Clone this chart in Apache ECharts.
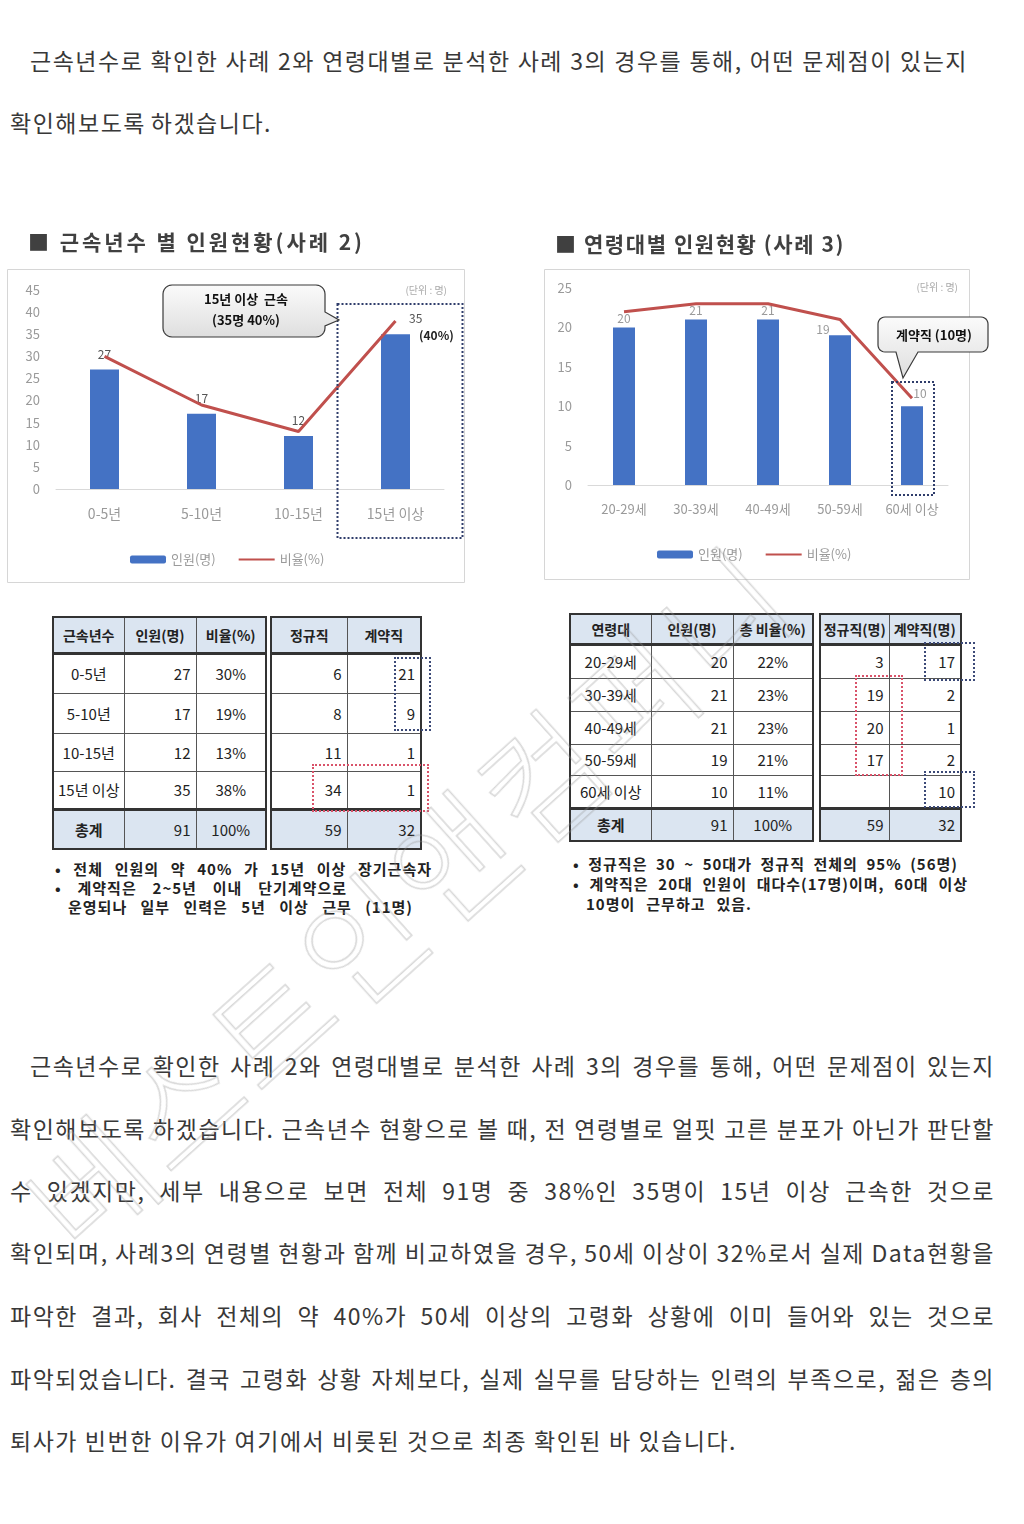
<!DOCTYPE html>
<html><head><meta charset="utf-8">
<script src="https://cdn.jsdelivr.net/npm/echarts@6/dist/echarts.min.js"></script>
<style>
html,body{margin:0;padding:0;background:#fff;}
#page{position:relative;width:1024px;height:1524px;overflow:hidden;font-family:"Noto Sans CJK KR","Noto Sans",sans-serif;}
.ln{position:absolute;white-space:nowrap;font-size:23px;line-height:30px;color:#383838;}
.ttl{position:absolute;white-space:nowrap;font-size:21px;line-height:26px;font-weight:bold;color:#404040;}
.note{position:absolute;white-space:nowrap;font-size:15px;line-height:18px;font-weight:bold;color:#222;}
#charts{position:absolute;left:0;top:220px;width:1024px;height:380px;}
table.t{position:absolute;border-collapse:collapse;table-layout:fixed;border:2px solid #333;background:#fff;font-size:15px;color:#222;}
table.t td{border:1px solid #555;padding:0;overflow:hidden;white-space:nowrap;}
table.t tr.h td{background:#dbe5f1;font-weight:bold;font-size:14px;text-align:center;border-bottom:3px solid #333;}
table.t tr.s td{background:#dbe5f1;border-top:3px solid #333;}
td.c{text-align:center;}
td.r{text-align:right;}
.dot{position:absolute;box-sizing:border-box;border:2px dotted #3c4a78;}
.dot.red{border-color:#d9536a;}
#wm{position:absolute;left:405px;top:895px;transform:translate(-50%,-50%) rotate(-42deg);font-size:128px;font-weight:300;white-space:nowrap;color:transparent;-webkit-text-stroke:1.5px rgba(150,150,150,0.38);pointer-events:none;letter-spacing:4px;}
</style></head>
<body><div id="page"><div id="charts"></div></div>
<script>
// ---------- data ----------
const introLines = [
  '근속년수로 확인한 사례 2와 연령대별로 분석한 사례 3의 경우를 통해, 어떤 문제점이 있는지',
  '확인해보도록 하겠습니다.'
];
const bodyLines = [
  '근속년수로 확인한 사례 2와 연령대별로 분석한 사례 3의 경우를 통해, 어떤 문제점이 있는지',
  '확인해보도록 하겠습니다. 근속년수 현황으로 볼 때, 전 연령별로 얼핏 고른 분포가 아닌가 판단할',
  '수 있겠지만, 세부 내용으로 보면 전체 91명 중 38%인 35명이 15년 이상 근속한 것으로',
  '확인되며, 사례3의 연령별 현황과 함께 비교하였을 경우, 50세 이상이 32%로서 실제 Data현황을',
  '파악한 결과, 회사 전체의 약 40%가 50세 이상의 고령화 상황에 이미 들어와 있는 것으로',
  '파악되었습니다. 결국 고령화 상황 자체보다, 실제 실무를 담당하는 인력의 부족으로, 젊은 층의',
  '퇴사가 빈번한 이유가 여기에서 비롯된 것으로 최종 확인된 바 있습니다.'
];
const title1 = '■ 근속년수 별 인원현황(사례 2)';
const title2 = '■ 연령대별 인원현황 (사례 3)';
const seriesNames = ['인원(명)', '비율(%)'];
const unitText = '(단위 : 명)';

const tenureCats = ['0-5년', '5-10년', '10-15년', '15년 이상'];
const tenureCounts = [27, 17, 12, 35];
const tenureRatio = [30, 19, 13, 38];
const tenureRatioText = ['30%', '19%', '13%', '38%'];
const tenureRegular = [6, 8, 11, 34];
const tenureContract = [21, 9, 1, 1];
const tenureTotals = ['91', '100%', '59', '32'];
const tenureHead = ['근속년수', '인원(명)', '비율(%)', '정규직', '계약직'];
const callout1 = ['15년 이상  근속', '(35명 40%)'];
const tenureExtra = '(40%)';
const notes1 = ['• 전체 인원의 약 40% 가 15년 이상 장기근속자', '• 계약직은 2~5년 이내 단기계약으로', '운영되나 일부 인력은 5년 이상 근무 (11명)'];

const ageCats = ['20-29세', '30-39세', '40-49세', '50-59세', '60세 이상'];
const ageCounts = [20, 21, 21, 19, 10];
const ageRatio = [22, 23, 23, 21, 11];
const ageRatioText = ['22%', '23%', '23%', '21%', '11%'];
const ageRegular = [3, 19, 20, 17, ''];
const ageContract = [17, 2, 1, 2, 10];
const ageTotals = ['91', '100%', '59', '32'];
const ageHead = ['연령대', '인원(명)', '총 비율(%)', '정규직(명)', '계약직(명)'];
const callout2 = '계약직 (10명)';
const notes2 = ['• 정규직은 30 ~ 50대가 정규직 전체의 95% (56명)', '• 계약직은 20대 인원이 대다수(17명)이며, 60대 이상', '10명이 근무하고 있음.'];
const watermark = '베스트인앤컴퍼니';

// ---------- text layout ----------
const page = document.getElementById('page');
function addLine(cls, text, x, cy, target, ls, mode) {
  const d = document.createElement('div');
  d.className = cls; d.textContent = text;
  d.style.left = x + 'px';
  if (ls) d.style.letterSpacing = ls + 'px';
  page.appendChild(d);
  const r = d.getBoundingClientRect();
  d.style.top = (cy - r.height / 2) + 'px';
  if (target) {
    const n = (text.match(/ /g) || []).length;
    if (n && mode !== 'letter') d.style.wordSpacing = ((target - r.width) / n) + 'px';
    else d.style.letterSpacing = ((ls || 0) + (target - r.width) / text.length) + 'px';
  }
  return d;
}
addLine('ln', introLines[0], 30, 60, 938, 1.5);
addLine('ln', introLines[1], 10, 122, 262, 1.5);
const bodyY = [1065, 1128, 1190, 1252, 1315, 1378, 1440];
bodyLines.forEach((t, i) => {
  const x = i === 0 ? 30 : 10;
  const end = i === bodyLines.length - 1 ? 737 : 995;
  addLine('ln', t, x, bodyY[i], end - x, 1.5);
});
addLine('ttl', title1, 28, 241, 337, 0, 'letter');
addLine('ttl', title2, 555, 243, 290, 0, 'letter');
addLine('note', notes1[0], 55, 869, 377, 1);
addLine('note', notes1[1], 55, 888, 292, 1);
addLine('note', notes1[2], 68, 907, 345, 1);
addLine('note', notes2[0], 573, 864, 385, 1);
addLine('note', notes2[1], 573, 884, 395, 1);
addLine('note', notes2[2], 586, 904, 166, 1);

// ---------- tables ----------
function makeTable(x, y, widths, heights, rows, rowTypes, aligns) {
  const t = document.createElement('table');
  t.className = 't';
  t.style.left = x + 'px'; t.style.top = y + 'px';
  t.style.width = widths.reduce((a, b) => a + b, 0) + 'px';
  const cg = document.createElement('colgroup');
  widths.forEach(w => { const c = document.createElement('col'); c.style.width = w + 'px'; cg.appendChild(c); });
  t.appendChild(cg);
  rows.forEach((row, ri) => {
    const tr = document.createElement('tr');
    if (rowTypes[ri]) tr.className = rowTypes[ri];
    tr.style.height = heights[ri] + 'px';
    row.forEach((v, ci) => {
      const td = document.createElement('td');
      td.textContent = v;
      if (rowTypes[ri] !== 'h') {
        td.className = aligns[ci];
        if (aligns[ci] === 'r') td.style.paddingRight = '5px';
        if (rowTypes[ri] === 's' && ci === 0 && widths.length === 3) td.style.fontWeight = 'bold';
      }
      tr.appendChild(td);
    });
    t.appendChild(tr);
  });
  page.appendChild(t);
}
const t1A = [tenureHead.slice(0, 3)].concat(tenureCats.map((c, i) => [c, tenureCounts[i], tenureRatioText[i]]), [['총계', tenureTotals[0], tenureTotals[1]]]);
const t1B = [tenureHead.slice(3)].concat(tenureCats.map((c, i) => [tenureRegular[i], tenureContract[i]]), [[tenureTotals[2], tenureTotals[3]]]);
const t1Types = ['h', '', '', '', '', 's'];
const t1H = [36, 40, 40, 38, 38, 40];
makeTable(52, 616, [71, 72, 70], t1H, t1A, t1Types, ['c', 'r', 'c']);
makeTable(270, 616, [76, 74], t1H, t1B, t1Types, ['r', 'r']);
const t2A = [ageHead.slice(0, 3)].concat(ageCats.map((c, i) => [c, ageCounts[i], ageRatioText[i]]), [['총계', ageTotals[0], ageTotals[1]]]);
const t2B = [ageHead.slice(3)].concat(ageCats.map((c, i) => [ageRegular[i], ageContract[i]]), [[ageTotals[2], ageTotals[3]]]);
const t2Types = ['h', '', '', '', '', '', 's'];
const t2H = [30, 34, 33, 33, 31, 33, 33];
makeTable(569, 613, [81, 82, 80], t2H, t2A, t2Types, ['c', 'r', 'c']);
makeTable(819, 613, [69, 72], t2H, t2B, t2Types, ['r', 'r']);

function dotBox(x1, y1, x2, y2, red) {
  const d = document.createElement('div');
  d.className = 'dot' + (red ? ' red' : '');
  d.style.left = x1 + 'px'; d.style.top = y1 + 'px';
  d.style.width = (x2 - x1) + 'px'; d.style.height = (y2 - y1) + 'px';
  page.appendChild(d);
}
dotBox(394, 657, 431, 731, false);
dotBox(312, 764, 429, 812, true);
dotBox(924, 642, 975, 681, false);
dotBox(855, 675, 903, 776, true);
dotBox(924, 771, 975, 808, false);

const wm = document.createElement('div');
wm.id = 'wm'; wm.textContent = watermark;
page.appendChild(wm);

// ---------- charts ----------
const T = 220;
const chart = echarts.init(document.getElementById('charts'));
const FF = '"Noto Sans CJK KR","Noto Sans",sans-serif';
const blue = '#4472c4', red = '#c0504d';

function xAx(idx, data, fs) {
  return {type: 'category', gridIndex: idx, data: data,
    axisLine: {lineStyle: {color: '#d9d9d9', width: 1}}, axisTick: {show: false},
    axisLabel: {color: '#9a9a9a', fontSize: fs, margin: 18, fontFamily: FF}};
}
function yAx(idx, max) {
  return {type: 'value', gridIndex: idx, min: 0, max: max, interval: 5,
    axisLine: {show: false}, axisTick: {show: false}, splitLine: {show: false},
    axisLabel: {color: '#9a9a9a', fontSize: 13, margin: 16, fontFamily: FF}};
}
const legendData = [{name: seriesNames[0]}, {name: seriesNames[1], itemStyle: {opacity: 0}}];

chart.setOption({
  animation: false,
  textStyle: {fontFamily: FF},
  grid: [
    {left: 56, top: 290 - T, width: 388, height: 199},
    {left: 588, top: 288 - T, width: 360, height: 197}
  ],
  xAxis: [xAx(0, tenureCats, 14), xAx(1, ageCats, 13)],
  yAxis: [yAx(0, 45), yAx(1, 25)],
  legend: [
    {left: 125, top: 556 - T - 8, itemWidth: 36, itemHeight: 8, itemGap: 22, data: legendData,
      textStyle: {color: '#9a9a9a', fontSize: 13, fontFamily: FF}},
    {left: 652, top: 551 - T - 8, itemWidth: 36, itemHeight: 8, itemGap: 22, data: legendData,
      textStyle: {color: '#9a9a9a', fontSize: 13, fontFamily: FF}}
  ],
  series: [
    {type: 'bar', name: seriesNames[0], xAxisIndex: 0, yAxisIndex: 0, barWidth: 29,
      itemStyle: {color: blue},
      label: {show: true, position: 'top', distance: 9, color: '#555', fontSize: 12},
      data: tenureCounts.map((v, i) => i === tenureCounts.length - 1 ? {
        value: v,
        label: {position: [28, -24], align: 'left', verticalAlign: 'top',
          formatter: '{a|{c}}\n{b|' + tenureExtra + '}',
          rich: {a: {color: '#555', fontSize: 12, lineHeight: 16},
                 b: {color: '#222', fontSize: 12, fontWeight: 'bold', lineHeight: 18, padding: [0, 0, 0, 10]}}}
      } : v)},
    {type: 'line', name: seriesNames[1], xAxisIndex: 0, yAxisIndex: 0, data: tenureRatio,
      symbol: 'none', lineStyle: {color: red, width: 3}, itemStyle: {color: red}, z: 3},
    {type: 'bar', name: seriesNames[0], xAxisIndex: 1, yAxisIndex: 1, barWidth: 22,
      itemStyle: {color: blue},
      label: {show: true, position: 'top', distance: 3, color: '#9a9a9a', fontSize: 12},
      data: ageCounts.map((v, i) => i === 3 ? {value: v, label: {offset: [-17, 3]}} :
        (i === 4 ? {value: v, label: {offset: [8, -4]}} : v))},
    {type: 'line', name: seriesNames[1], xAxisIndex: 1, yAxisIndex: 1, data: ageRatio,
      symbol: 'none', lineStyle: {color: red, width: 3}, itemStyle: {color: red}, z: 3}
  ]
});

// rounded callout outline as polygon points
function calloutPts(x, y, w, h, r, ptr) {
  const pts = [];
  const arc = (cx, cy, a0, a1) => {
    for (let k = 0; k <= 6; k++) {
      const a = (a0 + (a1 - a0) * k / 6) * Math.PI / 180;
      pts.push([cx + r * Math.cos(a), cy + r * Math.sin(a)]);
    }
  };
  arc(x + w - r, y + r, -90, 0);
  if (ptr && ptr.side === 'right') { pts.push([x + w, ptr.a], ptr.tip, [x + w, ptr.b]); }
  arc(x + w - r, y + h - r, 0, 90);
  if (ptr && ptr.side === 'bottom') { pts.push([ptr.b, y + h], ptr.tip, [ptr.a, y + h]); }
  arc(x + r, y + h - r, 90, 180);
  arc(x + r, y + r, 180, 270);
  return pts;
}
const grad = () => ({type: 'linear', x: 0, y: 0, x2: 0, y2: 1,
  colorStops: [{offset: 0, color: '#fbfbfb'}, {offset: 1, color: '#dedede'}]});
const c1x = chart.convertToPixel({xAxisIndex: 0}, tenureCats[3]);
const y1base = chart.convertToPixel({yAxisIndex: 0}, 0);
const c2x = chart.convertToPixel({xAxisIndex: 1}, ageCats[4]);
const y2base = chart.convertToPixel({yAxisIndex: 1}, 0);
const txt = (x, y, text, font, fill, align) => ({type: 'text', x: x, y: y, z: 20,
  style: {text: text, font: font, fill: fill, align: align || 'center', verticalAlign: 'middle'}});

chart.setOption({graphic: [
  {type: 'rect', z: -1, shape: {x: 7.5, y: 269 - T + 0.5, width: 457, height: 313}, style: {fill: 'none', stroke: '#d6d6d6', lineWidth: 1}},
  {type: 'rect', z: -1, shape: {x: 544.5, y: 269 - T + 0.5, width: 425, height: 310}, style: {fill: 'none', stroke: '#d6d6d6', lineWidth: 1}},
  txt(447, 290 - T, unitText, '10px ' + FF, '#aaa', 'right'),
  txt(958, 287 - T, unitText, '10px ' + FF, '#aaa', 'right'),
  {type: 'rect', z: 15, shape: {x: c1x - 58, y: y1base - 185, width: 125, height: 234},
    style: {fill: 'none', stroke: '#2f3d6b', lineWidth: 2, lineDash: [2, 2]}},
  {type: 'rect', z: 15, shape: {x: c2x - 20, y: y2base - 103, width: 42, height: 113},
    style: {fill: 'none', stroke: '#2f3d6b', lineWidth: 2, lineDash: [2, 2]}},
  {type: 'polygon', z: 16, shape: {points: calloutPts(163, 285 - T, 162, 52, 9, {side: 'right', a: 312 - T, b: 326 - T, tip: [339, 320 - T]})},
    style: {fill: grad(), stroke: '#3a3a3a', lineWidth: 1.2}},
  txt(246, 299 - T, callout1[0], 'bold 13px ' + FF, '#111'),
  txt(246, 320 - T, callout1[1], 'bold 13px ' + FF, '#111'),
  {type: 'polygon', z: 16, shape: {points: calloutPts(878, 317 - T, 110, 35, 7, {side: 'bottom', a: 896, b: 918, tip: [903, 378 - T]})},
    style: {fill: grad(), stroke: '#3a3a3a', lineWidth: 1.2}},
  txt(934, 335 - T, callout2, 'bold 13px ' + FF, '#111')
]});
</script>
</body></html>
